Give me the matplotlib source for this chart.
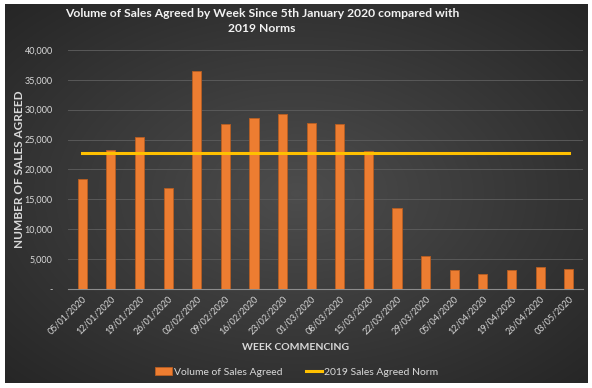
import numpy as np
import matplotlib
matplotlib.use('Agg')
from matplotlib import pyplot as plt
from matplotlib.ticker import FuncFormatter

weeks = ['05/01/2020', '12/01/2020', '19/01/2020', '26/01/2020', '02/02/2020',
         '09/02/2020', '16/02/2020', '23/02/2020', '01/03/2020', '08/03/2020',
         '15/03/2020', '22/03/2020', '29/03/2020', '05/04/2020', '12/04/2020',
         '19/04/2020', '26/04/2020', '03/05/2020']
sales = [18450, 23250, 25400, 16950, 36400, 27600, 28600, 29200, 27700, 27600,
         23000, 13500, 5550, 3050, 2500, 3100, 3600, 3350]
norm_2019 = [22800] * len(weeks)
yticks = [0, 5000, 10000, 15000, 20000, 25000, 30000, 35000, 40000]

plt.rcParams['font.family'] = ['Lato', 'DejaVu Sans']

W, H = 592, 388
fig = plt.figure(figsize=(W / 100, H / 100), dpi=100)
fig.patch.set_facecolor('white')

# dark radial gradient background (leaves a thin white frame)
bg = fig.add_axes([5 / W, 5 / H, 583 / W, 379 / H])
bg.set_axis_off()
gx, gy = np.meshgrid(np.linspace(-1, 1, 300), np.linspace(-1, 1, 200))
r = np.clip(np.sqrt(gx ** 2 + gy ** 2) / 1.41, 0, 1)
shade = 0.30 - 0.15 * r
img = np.dstack([shade, shade, shade])
bg.imshow(img, aspect='auto', extent=[0, 1, 0, 1], interpolation='bilinear')

ax = fig.add_axes([68 / W, 1 - 288.7 / H, 515 / W, 238.7 / H])
ax.set_facecolor('none')
x = np.arange(len(weeks))
bars = ax.bar(x, sales, width=0.32, color='#ED7D31', edgecolor='#B85E22',
              linewidth=0.6, label='Volume of Sales Agreed', zorder=3)
line, = ax.plot(x, norm_2019, color='#FFC000', linewidth=2.2,
                label='2019 Sales Agreed Norm', zorder=4)

ax.set_xlim(-0.5, len(weeks) - 0.5)
ax.set_ylim(0, 40000)
ax.set_yticks(yticks)
ax.yaxis.set_major_formatter(FuncFormatter(lambda v, p: '-' if v == 0 else f'{int(v):,}'))
ax.set_xticks(x)
ax.set_xticklabels(weeks, rotation=45, ha='right', rotation_mode='anchor')
ax.tick_params(axis='both', length=0, labelsize=6.5, colors='#D9D9D9')
ax.tick_params(axis='x', pad=4)
ax.tick_params(axis='y', pad=11)
ax.grid(axis='y', color='#595959', linewidth=0.7, zorder=0)
for s in ['top', 'right', 'left']:
    ax.spines[s].set_visible(False)
ax.spines['bottom'].set_color('#8C8C8C')
ax.spines['bottom'].set_linewidth(0.8)

fig.text(20 / W, 1 - 169 / H, 'NUMBER OF SALES AGREED', fontsize=8.5,
         fontweight='bold', color='#D9D9D9', ha='center', va='center',
         rotation=90)
fig.text(0.5, 1 - 347 / H, 'WEEK COMMENCING', fontsize=7.5, fontweight='bold',
         color='#D9D9D9', ha='center', va='center')
fig.text(262 / W, 1 - 21 / H,
         'Volume of Sales Agreed by Week Since 5th January 2020 compared with\n2019 Norms',
         fontsize=8.7, fontweight='bold', color='#F2F2F2', ha='center', va='center',
         linespacing=1.4)

fig.legend(handles=[bars, line], loc='center', bbox_to_anchor=(297 / W, 1 - 372 / H),
           ncol=2, frameon=False, fontsize=7.5, labelcolor='#D9D9D9',
           handlelength=1.6, handletextpad=0.2, columnspacing=2.2)

fig.savefig('out.png', dpi=100)
